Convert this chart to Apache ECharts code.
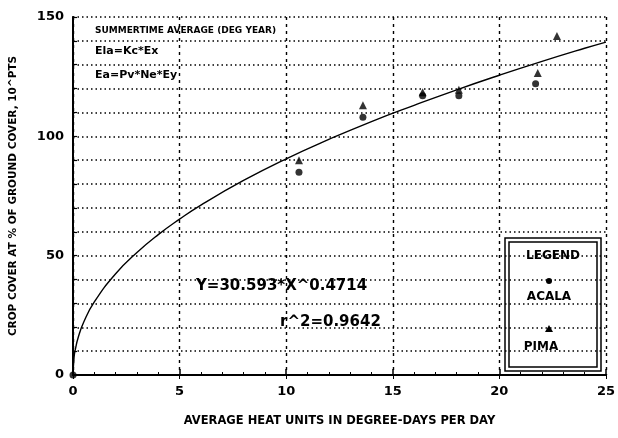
<!DOCTYPE html>
<html>
<head>
<meta charset="utf-8">
<script src="https://cdn.jsdelivr.net/npm/echarts@6/dist/echarts.min.js"></script>
<style>
  html, body { margin: 0; padding: 0; background: #fff; }
  #chart { width: 618px; height: 438px; }
</style>
</head>
<body>
<div id="chart"></div>
<script>
// Heat units (degree-days per day) against crop cover values
const acalaX = [0, 10.6, 13.6, 16.4, 18.1, 21.7];
const acalaY = [0, 85, 108, 117, 117, 122];
const pimaX = [10.6, 13.6, 16.4, 18.1, 21.8, 22.7];
const pimaY = [90, 113, 118.5, 119.5, 126.5, 142];

// Fitted power curve
const fitX = [0, 0.05, 0.1, 0.25, 0.5, 1, 2, 3, 4, 5, 6, 8, 10, 12, 14, 16, 18, 20, 22, 24, 25];
const fitY = [0, 7.5, 10.3, 15.9, 22.1, 30.6, 42.4, 51.3, 58.8, 65.3, 71.2, 81.5, 90.6, 98.7, 106.2, 113.0, 119.5, 125.6, 131.4, 136.9, 139.5];

const yLabels = [0, 50, 100, 150];
const xLabels = [0, 5, 10, 15, 20, 25];

const FONT = '"DejaVu Sans", "Liberation Sans", sans-serif';
const chart = echarts.init(document.getElementById('chart'), null, { renderer: 'canvas' });

const pairs = (xs, ys) => xs.map((x, i) => [x, ys[i]]);

chart.setOption({
  animation: false,
  backgroundColor: '#fff',
  grid: { left: 73, right: 11, top: 17, bottom: 63, containLabel: false },
  xAxis: [{
    type: 'value', min: 0, max: 25, interval: 5,
    axisLine: { lineStyle: { color: '#000', width: 2 } },
    axisTick: { inside: true, length: 6, lineStyle: { color: '#000', width: 1.5 } },
    minorTick: { show: true, splitNumber: 5, length: 3, lineStyle: { color: '#000', width: 1 } },
    axisLabel: {
      color: '#000', fontFamily: FONT, fontWeight: 'bold', fontSize: 13, margin: 10,
      formatter: v => xLabels.includes(v) ? String(v) : ''
    },
    splitLine: { show: true, lineStyle: { color: '#000', width: 1.4, type: [3, 4] } },
    name: 'AVERAGE HEAT UNITS IN DEGREE-DAYS PER DAY',
    nameLocation: 'middle', nameGap: 40,
    nameTextStyle: { color: '#000', fontFamily: FONT, fontWeight: 'bold', fontSize: 11.5 }
  }, {
    type: 'value', min: 0, max: 25, interval: 5, position: 'top',
    axisLine: { show: true, lineStyle: { color: '#000', width: 1.5 } },
    axisTick: { show: true, inside: true, length: 4, lineStyle: { color: '#000' } },
    axisLabel: { show: false }, splitLine: { show: false }
  }],
  yAxis: [{
    type: 'value', min: 0, max: 150, interval: 10,
    axisLine: { show: true, lineStyle: { color: '#000', width: 2 } },
    axisTick: { show: true, inside: true, length: 4, lineStyle: { color: '#000', width: 1.2 } },
    axisLabel: {
      color: '#000', fontFamily: FONT, fontWeight: 'bold', fontSize: 13, margin: 9,
      formatter: v => yLabels.includes(v) ? String(v) : ''
    },
    splitLine: { show: true, lineStyle: { color: '#000', width: 1.5, type: [1.5, 3] } },
    name: 'CROP COVER AT % OF GROUND COVER, 10^PTS',
    nameLocation: 'middle', nameGap: 54,
    nameTextStyle: { color: '#000', fontFamily: FONT, fontWeight: 'bold', fontSize: 10.5 }
  }, {
    type: 'value', min: 0, max: 150, interval: 10, position: 'right',
    axisLine: { show: true, lineStyle: { color: '#000', width: 1.5 } },
    axisTick: { show: false }, axisLabel: { show: false }, splitLine: { show: false }
  }],
  series: [{
    name: 'FIT', type: 'line', smooth: true, showSymbol: false,
    data: pairs(fitX, fitY),
    lineStyle: { color: '#000', width: 1.4 }, z: 3
  }, {
    name: 'ACALA', type: 'scatter', symbol: 'circle', symbolSize: 7,
    data: pairs(acalaX, acalaY), itemStyle: { color: '#000' }, z: 4
  }, {
    name: 'PIMA', type: 'scatter', symbol: 'triangle', symbolSize: 8,
    data: pairs(pimaX, pimaY), itemStyle: { color: '#000' }, z: 4
  }],
  graphic: [
    { type: 'text', left: 95, top: 26, style: { text: 'SUMMERTIME AVERAGE (DEG YEAR)', font: 'bold 9px ' + FONT, fill: '#000' } },
    { type: 'text', left: 95, top: 46, style: { text: 'Ela=Kc*Ex', font: 'bold 11px ' + FONT, fill: '#000' } },
    { type: 'text', left: 95, top: 70, style: { text: 'Ea=Pv*Ne*Ey', font: 'bold 11px ' + FONT, fill: '#000' } },
    { type: 'text', left: 196, top: 279, style: { text: 'Y=30.593*X^0.4714', font: 'bold 15px ' + FONT, fill: '#000' } },
    { type: 'text', left: 280, top: 315, style: { text: 'r^2=0.9642', font: 'bold 15px ' + FONT, fill: '#000' } },
    // legend frame (double border)
    { type: 'rect', shape: { x: 505, y: 238, width: 96, height: 133 }, style: { fill: 'none', stroke: '#000', lineWidth: 1.5 } },
    { type: 'rect', shape: { x: 509, y: 242, width: 88, height: 125 }, style: { fill: 'none', stroke: '#000', lineWidth: 1.5 } },
    { type: 'text', x: 553, y: 256, style: { text: 'LEGEND', font: 'bold 12px ' + FONT, fill: '#000', align: 'center', verticalAlign: 'middle' } },
    { type: 'circle', shape: { cx: 549, cy: 281, r: 3 }, style: { fill: '#000' } },
    { type: 'text', x: 549, y: 297, style: { text: 'ACALA', font: 'bold 12px ' + FONT, fill: '#000', align: 'center', verticalAlign: 'middle' } },
    { type: 'polygon', shape: { points: [[549, 325], [545, 332], [553, 332]] }, style: { fill: '#000' } },
    { type: 'text', x: 541, y: 347, style: { text: 'PIMA', font: 'bold 12px ' + FONT, fill: '#000', align: 'center', verticalAlign: 'middle' } }
  ]
});
</script>
</body>
</html>
